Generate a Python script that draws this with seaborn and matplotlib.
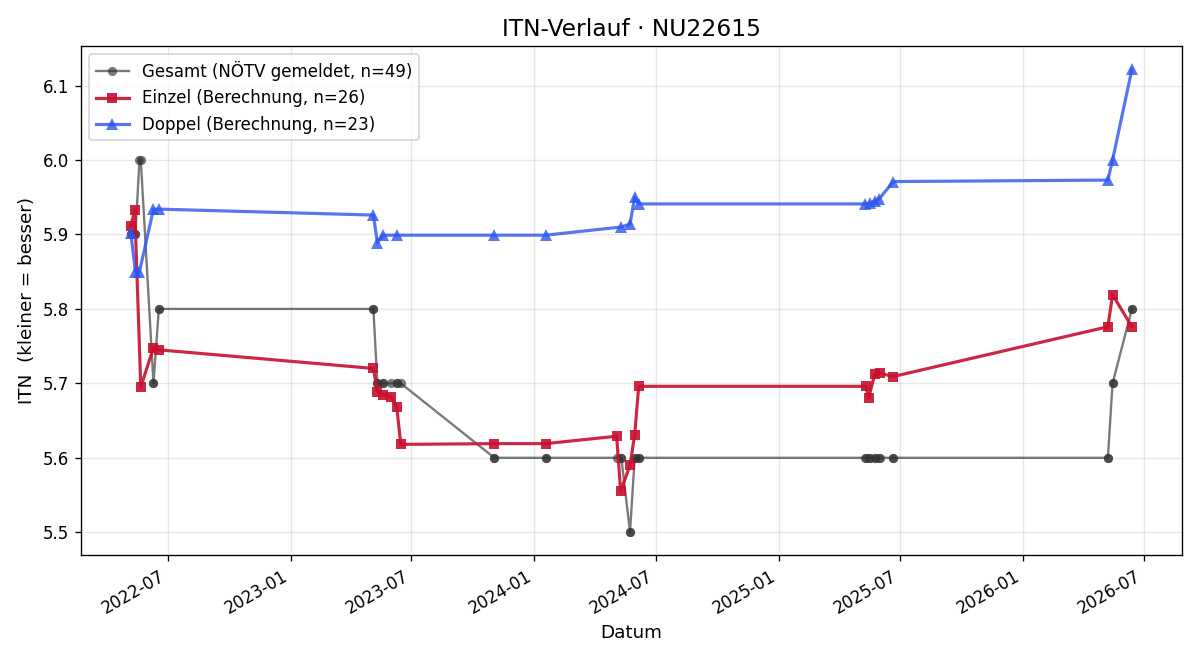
import matplotlib
matplotlib.use("Agg")
import matplotlib.pyplot as plt
import seaborn as sns
import pandas as pd

# --- Data ---------------------------------------------------------------
einzel_dates = ["2022-05-07", "2022-05-13", "2022-05-22", "2022-06-10", "2022-06-18",
                "2023-05-05", "2023-05-11", "2023-05-19", "2023-06-01", "2023-06-09",
                "2023-06-15", "2023-11-02", "2024-01-18", "2024-05-03", "2024-05-09",
                "2024-05-23", "2024-05-30", "2024-06-05", "2025-05-11", "2025-05-15",
                "2025-05-24", "2025-06-01", "2025-06-20", "2026-05-08", "2026-05-15",
                "2026-06-13"]
einzel_vals = [5.911, 5.933, 5.695, 5.748, 5.745,
               5.720, 5.689, 5.685, 5.682, 5.668,
               5.618, 5.619, 5.619, 5.629, 5.555,
               5.590, 5.631, 5.696, 5.696, 5.680,
               5.712, 5.714, 5.709, 5.776, 5.819,
               5.776]

doppel_dates = ["2022-05-07", "2022-05-14", "2022-05-20", "2022-06-10", "2022-06-18",
                "2023-05-05", "2023-05-11", "2023-05-19", "2023-06-10", "2023-11-02",
                "2024-01-18", "2024-05-10", "2024-05-23", "2024-05-30", "2024-06-05",
                "2025-05-10", "2025-05-17", "2025-05-24", "2025-05-31", "2025-06-21",
                "2026-05-08", "2026-05-15", "2026-06-13"]
doppel_vals = [5.902, 5.850, 5.850, 5.934, 5.934,
               5.926, 5.889, 5.899, 5.899, 5.899,
               5.899, 5.910, 5.914, 5.950, 5.941,
               5.941, 5.942, 5.945, 5.948, 5.971,
               5.973, 6.000, 6.122]

gesamt_dates = ["2022-05-07", "2022-05-07", "2022-05-13", "2022-05-14", "2022-05-20",
                "2022-05-22", "2022-06-10", "2022-06-10", "2022-06-18", "2022-06-18",
                "2023-05-05", "2023-05-05", "2023-05-11", "2023-05-11", "2023-05-19",
                "2023-05-19", "2023-06-01", "2023-06-09", "2023-06-10", "2023-06-15",
                "2023-11-02", "2023-11-02", "2024-01-18", "2024-01-18", "2024-05-03",
                "2024-05-09", "2024-05-10", "2024-05-23", "2024-05-23", "2024-05-30",
                "2024-05-30", "2024-06-05", "2024-06-05", "2025-05-10", "2025-05-11",
                "2025-05-15", "2025-05-17", "2025-05-24", "2025-05-24", "2025-05-31",
                "2025-06-01", "2025-06-20", "2025-06-21", "2026-05-08", "2026-05-08",
                "2026-05-15", "2026-05-15", "2026-06-13", "2026-06-13"]
gesamt_vals = [5.9, 5.9, 5.9, 5.9, 6.0,
               6.0, 5.7, 5.7, 5.8, 5.8,
               5.8, 5.8, 5.7, 5.7, 5.7,
               5.7, 5.7, 5.7, 5.7, 5.7,
               5.6, 5.6, 5.6, 5.6, 5.6,
               5.6, 5.6, 5.5, 5.5, 5.6,
               5.6, 5.6, 5.6, 5.6, 5.6,
               5.6, 5.6, 5.6, 5.6, 5.6,
               5.6, 5.6, 5.6, 5.6, 5.6,
               5.7, 5.7, 5.8, 5.8]

title = "ITN-Verlauf · NU22615"
label_g = f"Gesamt (NÖTV gemeldet, n={len(gesamt_vals)})"
label_e = f"Einzel (Berechnung, n={len(einzel_vals)})"
label_d = f"Doppel (Berechnung, n={len(doppel_vals)})"

# --- Frames -------------------------------------------------------------
df_g = pd.DataFrame({"Datum": pd.to_datetime(gesamt_dates), "ITN": gesamt_vals})
df_e = pd.DataFrame({"Datum": pd.to_datetime(einzel_dates), "ITN": einzel_vals})
df_d = pd.DataFrame({"Datum": pd.to_datetime(doppel_dates), "ITN": doppel_vals})

# --- Plot ---------------------------------------------------------------
fig, ax = plt.subplots(figsize=(10, 5.5), dpi=120)

sns.lineplot(data=df_g, x="Datum", y="ITN", ax=ax, estimator=None, sort=False,
             color="#333333", alpha=0.65, linewidth=1.4, marker="o",
             markersize=5.5, markeredgewidth=0, label=label_g)
sns.lineplot(data=df_e, x="Datum", y="ITN", ax=ax, estimator=None, sort=False,
             color="#c8102e", alpha=0.9, linewidth=1.9, marker="s",
             markersize=6.3, markeredgewidth=0, label=label_e)
sns.lineplot(data=df_d, x="Datum", y="ITN", ax=ax, estimator=None, sort=False,
             color="#2d55ee", alpha=0.8, linewidth=1.9, marker="^",
             markersize=6.8, markeredgewidth=0, label=label_d)

ax.set_title(title, fontsize=14)
ax.set_xlabel("Datum", fontsize=11)
ax.set_ylabel("ITN  (kleiner = besser)", fontsize=11)
ax.grid(True, alpha=0.3)
ax.legend(loc="upper left", fontsize=10)
fig.autofmt_xdate()
fig.tight_layout()
fig.savefig("out.png", dpi=120)
